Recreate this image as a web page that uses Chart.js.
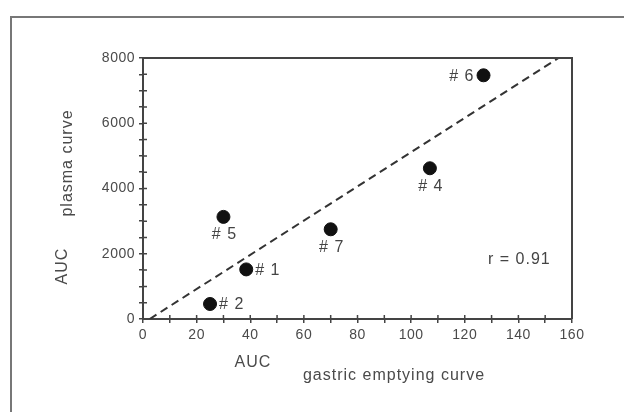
<!DOCTYPE html>
<html>
<head>
<meta charset="utf-8">
<script src="https://cdn.jsdelivr.net/npm/chart.js@4/dist/chart.umd.min.js"></script>
<style>
  html, body { margin: 0; padding: 0; background: #fff; }
  #wrap { width: 624px; height: 412px; position: relative; }
</style>
</head>
<body>
<div id="wrap"><canvas id="aucChart" width="624" height="412"></canvas></div>
<script>
// Subjects and their AUC values
const subjects = ['# 1', '# 2', '# 4', '# 5', '# 6', '# 7'];
const gastricAuc = [38.5, 25, 107, 30, 127, 70];
const plasmaAuc = [1520, 460, 4620, 3130, 7470, 2750];

// Fitted line end points
const fitX = [2.5, 155];
const fitY = [0, 8000];
const corrText = 'r = 0.91';

// Axis ranges and tick steps
const xRange = [0, 160];
const yRange = [0, 8000];
const xStep = 10, xLabelEvery = 20;
const yStep = 500, yLabelEvery = 2000;

// where each subject label sits relative to its dot
const labelSide = ['right', 'right', 'below', 'below', 'left', 'below'];

const FONT = "'Liberation Sans', Arial, sans-serif";
const AXIS = '#444';

const points = subjects.map((s, i) => ({ x: gastricAuc[i], y: plasmaAuc[i] }));
const fitLine = fitX.map((x, i) => ({ x: x, y: fitY[i] }));

const decorPlugin = {
  id: 'decor',
  beforeDraw(chart) {
    chart.ctx.letterSpacing = '0.5px';
  },
  afterDraw(chart) {
    const ctx = chart.ctx;
    const a = chart.chartArea;
    const xs = chart.scales.x, ys = chart.scales.y;
    ctx.save();

    // outer frame
    ctx.strokeStyle = '#777';
    ctx.lineWidth = 2;
    ctx.beginPath();
    ctx.moveTo(11, 412);
    ctx.lineTo(11, 17);
    ctx.lineTo(624, 17);
    ctx.stroke();

    // top and right edges of the plot box
    ctx.strokeStyle = AXIS;
    ctx.beginPath();
    ctx.moveTo(a.left, a.top);
    ctx.lineTo(a.right, a.top);
    ctx.lineTo(a.right, a.bottom);
    ctx.stroke();

    // inner half of the tick marks
    ctx.lineWidth = 1.5;
    ctx.beginPath();
    xs.ticks.forEach(t => {
      const px = xs.getPixelForValue(t.value);
      ctx.moveTo(px, a.bottom);
      ctx.lineTo(px, a.bottom - 4);
    });
    ys.ticks.forEach(t => {
      const py = ys.getPixelForValue(t.value);
      ctx.moveTo(a.left, py);
      ctx.lineTo(a.left + 4, py);
    });
    ctx.stroke();

    // subject labels
    ctx.letterSpacing = '1px';
    ctx.fillStyle = '#444';
    ctx.font = '16px ' + FONT;
    ctx.textBaseline = 'middle';
    subjects.forEach((s, i) => {
      const px = xs.getPixelForValue(gastricAuc[i]);
      const py = ys.getPixelForValue(plasmaAuc[i]);
      if (labelSide[i] === 'right') {
        ctx.textAlign = 'left';
        ctx.fillText(s, px + 9, py + 1);
      } else if (labelSide[i] === 'left') {
        ctx.textAlign = 'right';
        ctx.fillText(s, px - 9, py + 1);
      } else {
        ctx.textAlign = 'center';
        ctx.fillText(s, px + 1, py + 18);
      }
    });

    // correlation note
    ctx.textAlign = 'left';
    ctx.fillText(corrText, 488, 260);

    // axis titles
    ctx.fillStyle = '#4a4a4a';
    ctx.textAlign = 'center';
    ctx.fillText('AUC', 253, 363);
    ctx.fillText('gastric emptying curve', 394, 376);

    ctx.save();
    ctx.translate(63, 266);
    ctx.rotate(-Math.PI / 2);
    ctx.fillText('AUC', 0, 0);
    ctx.restore();
    ctx.save();
    ctx.translate(68, 163);
    ctx.rotate(-Math.PI / 2);
    ctx.fillText('plasma curve', 0, 0);
    ctx.restore();

    ctx.restore();
  }
};

new Chart(document.getElementById('aucChart').getContext('2d'), {
  type: 'scatter',
  data: {
    datasets: [
      {
        data: points,
        backgroundColor: '#111',
        borderColor: '#111',
        pointRadius: 6.5,
        pointHoverRadius: 6.5
      },
      {
        data: fitLine,
        showLine: true,
        borderColor: '#333',
        borderWidth: 2,
        borderDash: [8, 5],
        pointRadius: 0,
        fill: false
      }
    ]
  },
  options: {
    responsive: false,
    animation: false,
    events: [],
    layout: { padding: { top: 58, right: 52, left: 0, bottom: 0 } },
    plugins: {
      legend: { display: false },
      tooltip: { enabled: false }
    },
    scales: {
      x: {
        type: 'linear',
        min: xRange[0],
        max: xRange[1],
        afterFit(scale) { scale.height = 93; },
        border: { color: AXIS, width: 2 },
        grid: { drawOnChartArea: false, drawTicks: true, tickLength: 4, color: AXIS, lineWidth: 1.5 },
        ticks: {
          stepSize: xStep,
          autoSkip: false,
          maxRotation: 0,
          padding: 4,
          color: '#4a4a4a',
          font: { family: FONT, size: 14 },
          callback: v => (v % xLabelEvery === 0 ? String(v) : '')
        }
      },
      y: {
        type: 'linear',
        min: yRange[0],
        max: yRange[1],
        afterFit(scale) { scale.width = 143; },
        border: { color: AXIS, width: 2 },
        grid: { drawOnChartArea: false, drawTicks: true, tickLength: 4, color: AXIS, lineWidth: 1.5 },
        ticks: {
          stepSize: yStep,
          autoSkip: false,
          padding: 4,
          color: '#4a4a4a',
          font: { family: FONT, size: 14 },
          callback: v => (v % yLabelEvery === 0 ? String(v) : '')
        }
      }
    }
  },
  plugins: [decorPlugin]
});
</script>
</body>
</html>
